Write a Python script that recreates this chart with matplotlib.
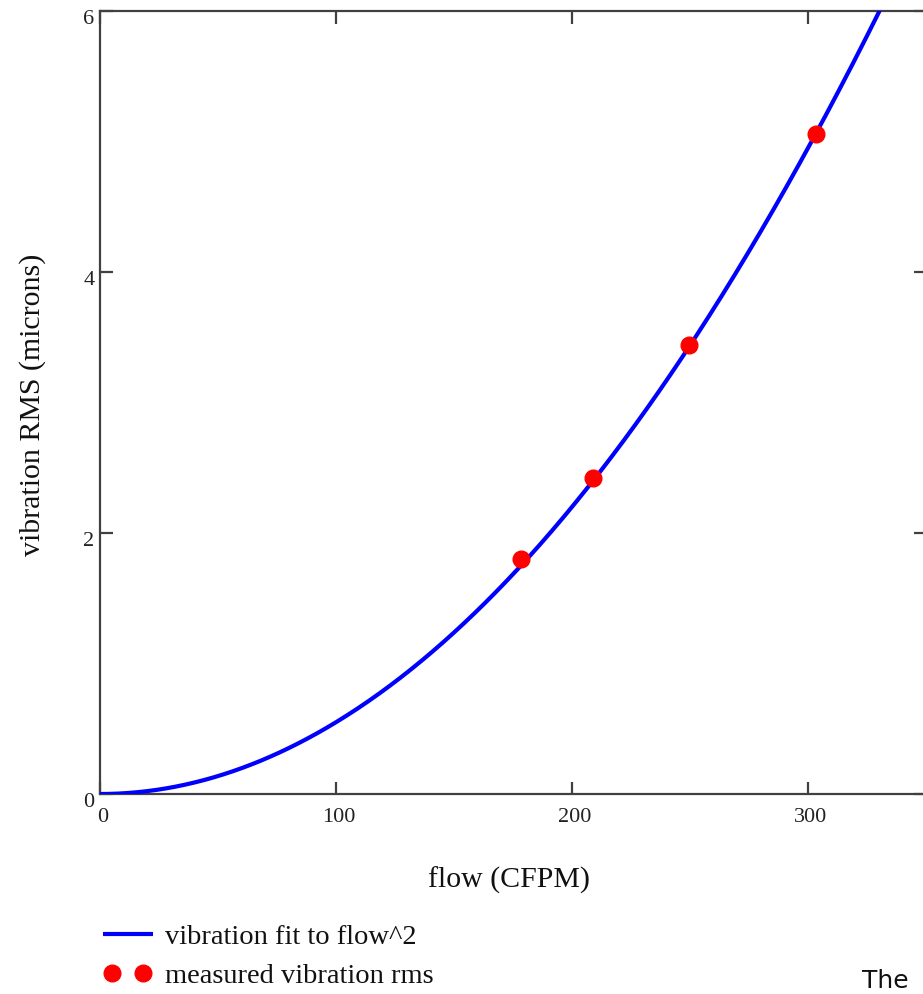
import numpy as np
import matplotlib
matplotlib.use("Agg")
import matplotlib.pyplot as plt
from matplotlib.transforms import ScaledTranslation
from matplotlib.legend_handler import HandlerLine2D

# measured vibration (RMS, microns) vs. flow (CFPM)
flow_measured = [178.4, 208.9, 249.6, 303.4]
vib_measured = [1.80, 2.42, 3.44, 5.06]

# quadratic fit coefficient: vibration = k * flow^2
k_fit = 5.5e-5

x_ticks = [0, 100, 200, 300]
y_ticks = [0, 2, 4, 6]

W, H = 923, 994
fig = plt.figure(figsize=(W / 100, H / 100), dpi=100)
fig.patch.set_facecolor("white")

serif = ["Liberation Serif", "DejaVu Serif"]

left, right, top, bottom = 100, 926, 11, 794
ax = fig.add_axes([left / W, 1 - bottom / H, (right - left) / W, (bottom - top) / H])

flow_fit = np.linspace(0, 350, 700)
vib_fit = k_fit * flow_fit ** 2
fit_line, = ax.plot(flow_fit, vib_fit, color="#0000ff", lw=3.0,
                    solid_capstyle="butt", zorder=3, clip_on=True)
pts, = ax.plot(flow_measured, vib_measured, ls="none", marker="o",
               ms=12, color="#ff0000", mec="#ff0000", zorder=4)

ax.set_xlim(0, 350)
ax.set_ylim(0, 6)
ax.set_xticks(x_ticks)
ax.set_yticks(y_ticks)
ax.set_xticklabels([str(v) for v in x_ticks])
ax.set_yticklabels([str(v) for v in y_ticks])

for s in ax.spines.values():
    s.set_color("#404040")
    s.set_linewidth(1.6)

ax.tick_params(direction="in", length=9, width=1.6, color="#404040",
               top=True, right=True, labelsize=16)
ax.tick_params(axis="x", pad=10)
ax.tick_params(axis="y", pad=4)

shift_x = ScaledTranslation(3 / 100, 0, fig.dpi_scale_trans)
shift_y = ScaledTranslation(0, -6 / 100, fig.dpi_scale_trans)
for lab in ax.get_xticklabels():
    lab.set_family(serif)
    lab.set_color("#222222")
    lab.set_transform(lab.get_transform() + shift_x)
for lab in ax.get_yticklabels():
    lab.set_family(serif)
    lab.set_color("#222222")
    lab.set_transform(lab.get_transform() + shift_y)

fig.text(509 / W, 1 - 880 / H, "flow (CFPM)", family=serif, fontsize=21.5,
         ha="center", va="center", color="#111111")
fig.text(33 / W, 1 - 405 / H, "vibration RMS (microns)", family=serif,
         fontsize=21.5, rotation=90, ha="center", va="center", color="#111111")

leg = fig.legend([fit_line, pts],
                 ["vibration fit to flow^2", "measured vibration rms"],
                 loc="upper left", bbox_to_anchor=(103 / W, 1 - 924 / H),
                 frameon=False, numpoints=2, handlelength=1.75,
                 handletextpad=0.42, labelspacing=0.46, borderpad=0,
                 borderaxespad=0, prop={"family": serif, "size": 20.5},
                 handler_map={fit_line: HandlerLine2D(marker_pad=0.0),
                              pts: HandlerLine2D(marker_pad=0.33)})
for t in leg.get_texts():
    t.set_color("#111111")

fig.text(862 / W, 1 - 988 / H, "The", family=["DejaVu Sans"], fontsize=18,
         ha="left", va="baseline", color="#111111")

fig.savefig("out.png", dpi=100, facecolor="white")
